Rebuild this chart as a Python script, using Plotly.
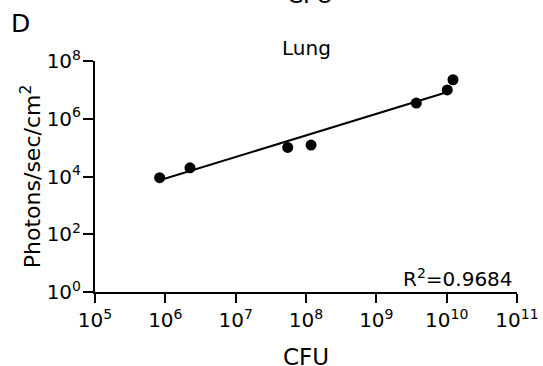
import plotly.graph_objects as go

# Data (CFU vs photons/sec/cm^2, log-log)
cfu = [8.3e5, 2.24e6, 5.5e7, 1.18e8, 3.7e9, 1.02e10, 1.23e10]
photons = [9.1e3, 2.0e4, 1.02e5, 1.23e5, 3.5e6, 1.0e7, 2.24e7]

# Regression line end points (as drawn)
fit_x = [8.3e5, 1.03e10]
fit_y = [7.4e3, 8.4e6]

x_tickvals = [1e5, 1e6, 1e7, 1e8, 1e9, 1e10, 1e11]
x_ticktext = ["10<sup>5</sup>", "10<sup>6</sup>", "10<sup>7</sup>", "10<sup>8</sup>",
              "10<sup>9</sup>", "10<sup>10</sup>", "10<sup>11</sup>"]
y_tickvals = [1e0, 1e2, 1e4, 1e6, 1e8]
y_ticktext = ["10<sup>0</sup>", "10<sup>2</sup>", "10<sup>4</sup>", "10<sup>6</sup>", "10<sup>8</sup>"]

FONT = "DejaVu Sans, Liberation Sans, Arial, sans-serif"

fig = go.Figure()
fig.add_trace(go.Scatter(x=fit_x, y=fit_y, mode="lines",
                         line=dict(color="black", width=2), showlegend=False, hoverinfo="skip"))
fig.add_trace(go.Scatter(x=cfu, y=photons, mode="markers",
                         marker=dict(color="black", size=11), showlegend=False))

axis_common = dict(type="log", showgrid=False, zeroline=False, showline=True,
                   linecolor="black", linewidth=2, ticks="outside", tickwidth=2,
                   tickcolor="black", automargin=False, tickfont=dict(size=20))

fig.update_layout(
    template="none",
    width=543, height=366,
    margin=dict(l=95, r=26, t=61, b=74),
    paper_bgcolor="white", plot_bgcolor="white",
    font=dict(family=FONT, color="black", size=20),
    showlegend=False,
    xaxis=dict(axis_common, range=[5, 11], tickvals=x_tickvals, ticktext=x_ticktext, ticklen=9),
    yaxis=dict(axis_common, range=[0, 8], tickvals=y_tickvals, ticktext=y_ticktext, ticklen=10,
               ticklabelstandoff=-2,
               title=dict(text="Photons/sec/cm<sup>2</sup>", font=dict(size=22), standoff=0)),
    annotations=[
        dict(text="CFU", xref="paper", yref="paper", x=0.5, y=-0.282,
             xanchor="center", yanchor="middle", showarrow=False, font=dict(size=23)),
        dict(text="Lung", xref="paper", yref="paper", x=0.5017, y=1.055,
             xanchor="center", yanchor="middle", showarrow=False, font=dict(size=20)),
        dict(text="R<sup>2</sup>=0.9684", xref="paper", yref="paper", x=0.995, y=0.059,
             xanchor="right", yanchor="middle", showarrow=False, font=dict(size=20)),
        dict(text="D", xref="paper", yref="paper", x=-0.203, y=1.163,
             xanchor="left", yanchor="middle", showarrow=False, font=dict(size=25)),
        dict(text="CFU", xref="paper", yref="paper", x=0.5095, y=1.219,
             xanchor="center", yanchor="bottom", showarrow=False, font=dict(size=23)),
    ],
)

fig.write_html("out.html", config={"displayModeBar": False},
               post_script="document.body.style.margin='0';")
